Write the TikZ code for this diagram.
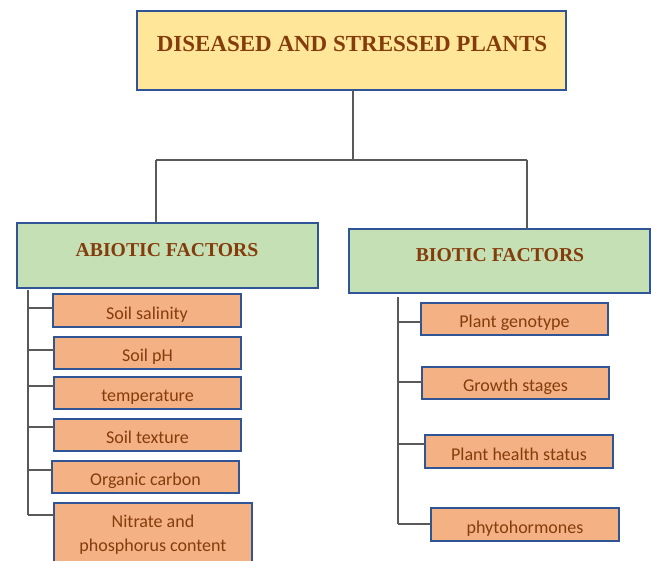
\documentclass[tikz,border=0pt]{standalone}
\usepackage{fontspec}
\setmainfont{Liberation Serif}
\newfontfamily\calfont{Carlito}
\definecolor{topfill}{HTML}{FFE699}
\definecolor{greenfill}{HTML}{C5E0B4}
\definecolor{orangefill}{HTML}{F4B183}
\definecolor{bordblue}{HTML}{2F5597}
\definecolor{txtbrown}{HTML}{843C0C}
\definecolor{linegray}{HTML}{595959}
\tikzset{
  boxbase/.style={draw=bordblue, line width=1.4pt, inner sep=0pt, outer sep=0pt},
  topbox/.style={boxbase, fill=topfill, minimum width=429pt, minimum height=79pt},
  catbox/.style={boxbase, fill=greenfill, minimum width=301pt, minimum height=65pt},
  itembox/.style={boxbase, fill=orangefill, minimum width=187pt, minimum height=32pt,
    font=\calfont\fontsize{18}{24}\selectfont, text=txtbrown, align=center},
  oneline/.style={text height=21pt, text depth=3.5pt},
  titletext/.style={font=\bfseries\fontsize{23}{26}\selectfont, text=txtbrown, inner sep=0pt},
  cattext/.style={font=\bfseries\fontsize{19.7}{22}\selectfont, text=txtbrown, inner sep=0pt},
  conn/.style={draw=linegray, line width=1.1pt},
}
\begin{document}
\begin{tikzpicture}[x=1pt,y=1pt]
\useasboundingbox (0,0) rectangle (651,560);
\fill[white] (0,0) rectangle (651,560);
% top
\node[topbox] (top) at (351.5,509.5) {};
\node[titletext] (toptxt) at (352,516) {DISEASED AND STRESSED PLANTS};
% categories
\node[catbox] (abio) at (167.5,304.5) {};
\node[cattext] (abiotxt) at (167,310) {ABIOTIC FACTORS};
\node[catbox, minimum height=64pt] (bio) at (499.5,299) {};
\node[cattext] (biotxt) at (500,305) {BIOTIC FACTORS};
% abiotic items
\node[itembox, oneline, minimum width=188pt, minimum height=33pt] (a1) at (147,249.5) {Soil salinity};
\node[itembox, oneline] (a2) at (147.5,207) {Soil pH};
\node[itembox, oneline] (a3) at (147.5,167) {temperature};
\node[itembox, oneline] (a4) at (147.5,125) {Soil texture};
\node[itembox, oneline] (a5) at (145.5,83) {Organic carbon};
\node[itembox, minimum width=198pt, minimum height=63pt] (a6) at (153,25.5) {Nitrate and\\phosphorus content};
% biotic items
\node[itembox, oneline] (b1) at (514.5,241) {Plant genotype};
\node[itembox, oneline] (b2) at (515.5,177) {Growth stages};
\node[itembox, oneline, minimum width=188pt, minimum height=33pt] (b3) at (519,108.5) {Plant health status};
\node[itembox, oneline, minimum width=188pt, minimum height=33pt] (b4) at (525,35.5) {phytohormones};
% tree connectors
\coordinate (jl) at (156,400);
\coordinate (jr) at (527,400);
\coordinate (jm) at (353,400);
\draw[conn] (top.south -| jm) -- (jm);
\draw[conn] (jl) -- (jr);
\draw[conn] (jl) -- (jl |- abio.north);
\draw[conn] (jr) -- (jr |- bio.north);
% left spine
\coordinate (lt) at (28,270);
\coordinate (l1) at (28,252);
\coordinate (l2) at (28,210);
\coordinate (l3) at (28,174);
\coordinate (l4) at (28,133);
\coordinate (l5) at (28,90);
\coordinate (l6) at (28,45);
\draw[conn] (lt) -- (l6);
\draw[conn] (l1) -- (a1.west |- l1);
\draw[conn] (l2) -- (a2.west |- l2);
\draw[conn] (l3) -- (a3.west |- l3);
\draw[conn] (l4) -- (a4.west |- l4);
\draw[conn] (l5) -- (a5.west |- l5);
\draw[conn] (l6) -- (a6.west |- l6);
% right spine
\coordinate (rt) at (398,263);
\coordinate (r1) at (398,238);
\coordinate (r2) at (398,178);
\coordinate (r3) at (398,116);
\coordinate (r4) at (398,36);
\draw[conn] (rt) -- (r4);
\draw[conn] (r1) -- (b1.west |- r1);
\draw[conn] (r2) -- (b2.west |- r2);
\draw[conn] (r3) -- (b3.west |- r3);
\draw[conn] (r4) -- (b4.west |- r4);
\end{tikzpicture}
\end{document}
